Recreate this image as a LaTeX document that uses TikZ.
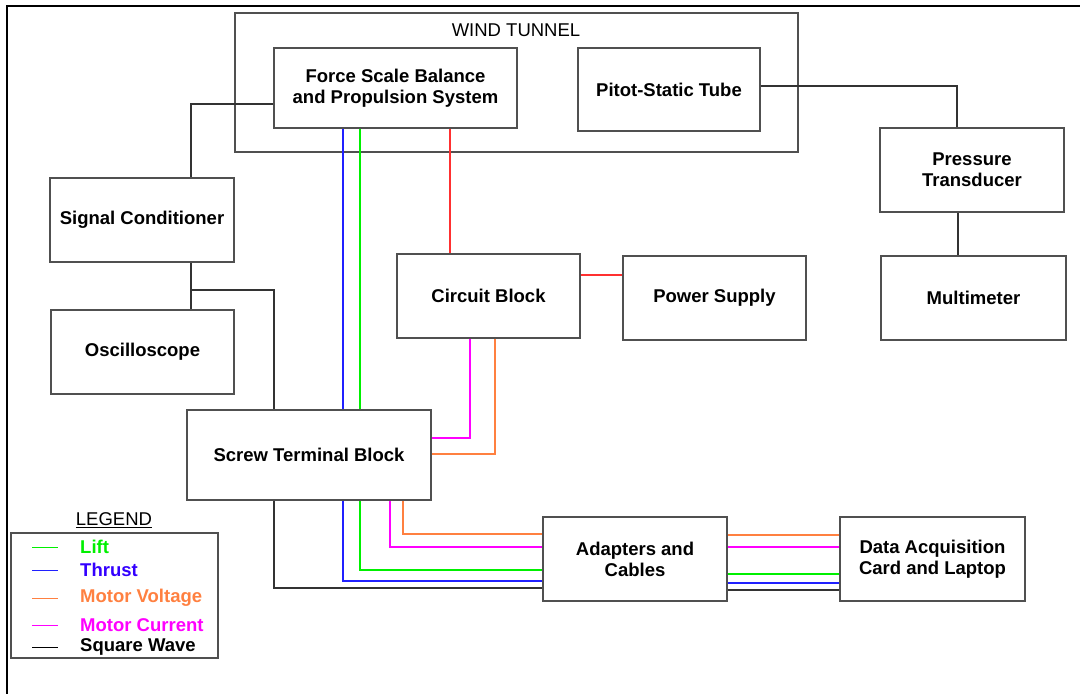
\documentclass[tikz,border=0pt]{standalone}
\usepackage{fontspec}
\setmainfont{Liberation Sans}
\definecolor{boxc}{HTML}{505050}
\definecolor{liftc}{HTML}{00F000}
\definecolor{thrustc}{HTML}{2020FF}
\definecolor{thrusttx}{HTML}{3300FF}
\definecolor{voltc}{HTML}{FF8040}
\definecolor{currc}{HTML}{FF00FF}
\definecolor{redc}{HTML}{FF3030}
\begin{document}
\begin{tikzpicture}[x=1pt,y=-1pt,
  box/.style={draw=boxc,line width=1.3pt,inner sep=0pt,align=center,
    font=\fontsize{18.5}{21}\selectfont\bfseries},
  wire/.style={draw=black!80,line width=1.2pt},
  lift/.style={draw=liftc,line width=1.2pt},
  thrust/.style={draw=thrustc,line width=1.2pt},
  volt/.style={draw=voltc,line width=1.2pt},
  curr/.style={draw=currc,line width=1.2pt},
  redw/.style={draw=redc,line width=1.2pt},
  sqw/.style={draw=black,line width=1.2pt},
  lgtext/.style={anchor=west,inner sep=0pt,font=\fontsize{18.5}{21}\selectfont\bfseries}
]
\useasboundingbox (0,0) rectangle (1080,694);
% outer frame
\draw[line width=2.2pt] (7,694) -- (7,6) -- (1080,6);

% boxes
\node[box,minimum width=563pt,minimum height=139pt] (wt) at (516.5,82.5) {};
\node[inner sep=0pt,font=\fontsize{18.5}{21}\selectfont] (wtl) at (516,30) {WIND TUNNEL};
\node[box,minimum width=243pt,minimum height=80pt] (fsb) at (395.5,88) {Force Scale Balance\\and Propulsion System};
\node[box,minimum width=182pt,minimum height=83pt] (pst) at (669,89.5) {Pitot-Static Tube};
\node[box,minimum width=184pt,minimum height=84pt] (pt) at (972,170) {Pressure\\Transducer};
\node[box,minimum width=185pt,minimum height=84pt] (mm) at (973.5,298) {Multimeter};
\node[box,minimum width=184pt,minimum height=84pt] (sc) at (142,220) {Signal Conditioner};
\node[box,minimum width=183pt,minimum height=84pt] (osc) at (142.5,352) {Oscilloscope};
\node[box,minimum width=183pt,minimum height=84pt] (cb) at (488.5,296) {Circuit Block};
\node[box,minimum width=183pt,minimum height=84pt] (ps) at (714.5,298) {Power Supply};
\node[box,minimum width=244pt,minimum height=90pt] (stb) at (309,455) {Screw Terminal Block};
\node[box,minimum width=184pt,minimum height=84pt] (ac) at (635,559) {Adapters and\\Cables};
\node[box,minimum width=185pt,minimum height=84pt] (daq) at (932.5,559) {Data Acquisition\\Card and Laptop};

% connectors top
\draw[wire] (fsb.west |- 0,104) -| (sc.north -| 191,0);
\draw[wire] (pst.east |- 0,86) -| (pt.north -| 957,0);
\draw[wire] (pt.south -| 958,0) -- (mm.north -| 958,0);
\draw[wire] (sc.south -| 191,0) -- (osc.north -| 191,0);
\coordinate (br) at (191,290);
\draw[wire] (br) -| (stb.north -| 274,0);
\draw[thrust] (fsb.south -| 343,0) -- (stb.north -| 343,0);
\draw[lift] (fsb.south -| 360,0) -- (stb.north -| 360,0);
\draw[redw] (fsb.south -| 450,0) -- (cb.north -| 450,0);
\draw[redw] (cb.east |- 0,275) -- (ps.west |- 0,275);
\draw[curr] (cb.south -| 470,0) |- (stb.east |- 0,438);
\draw[volt] (cb.south -| 495,0) |- (stb.east |- 0,454);

% connectors bottom
\draw[wire] (stb.south -| 274,0) |- (ac.west |- 0,588);
\draw[thrust] (stb.south -| 343,0) |- (ac.west |- 0,581);
\draw[lift] (stb.south -| 360,0) |- (ac.west |- 0,570);
\draw[curr] (stb.south -| 390,0) |- (ac.west |- 0,547);
\draw[volt] (stb.south -| 403,0) |- (ac.west |- 0,534);

% adapters to DAQ
\draw[volt] (ac.east |- 0,535) -- (daq.west |- 0,535);
\draw[curr] (ac.east |- 0,547) -- (daq.west |- 0,547);
\draw[lift] (ac.east |- 0,574) -- (daq.west |- 0,574);
\draw[thrust] (ac.east |- 0,583) -- (daq.west |- 0,583);
\draw[wire] (ac.east |- 0,590) -- (daq.west |- 0,590);

% legend
\node[inner sep=0pt,font=\fontsize{18.5}{21}\selectfont] (lgt) at (114,520) {\underline{LEGEND}};
\node[draw=boxc,line width=1.2pt,minimum width=207pt,minimum height=125pt,inner sep=0pt] (lg) at (114.5,595.5) {};
\coordinate (l1a) at (32,547); \coordinate (l1b) at (58,547);
\coordinate (l2a) at (32,570); \coordinate (l2b) at (58,570);
\coordinate (l3a) at (32,598); \coordinate (l3b) at (58,598);
\coordinate (l4a) at (32,625); \coordinate (l4b) at (58,625);
\coordinate (l5a) at (32,647); \coordinate (l5b) at (58,647);
\draw[lift,line width=0.9pt] (l1a) -- (l1b);
\draw[thrust,line width=0.9pt] (l2a) -- (l2b);
\draw[volt,line width=0.9pt] (l3a) -- (l3b);
\draw[curr,line width=0.9pt] (l4a) -- (l4b);
\draw[sqw,line width=0.9pt] (l5a) -- (l5b);
\node[lgtext,text=liftc] (t1) at (80,547) {Lift};
\node[lgtext,text=thrusttx] (t2) at (80,570) {Thrust};
\node[lgtext,text=voltc] (t3) at (80,598) {Motor Voltage};
\node[lgtext,text=currc] (t4) at (80,625) {Motor Current};
\node[lgtext,text=black] (t5) at (80,647) {Square Wave};
\end{tikzpicture}
\end{document}
